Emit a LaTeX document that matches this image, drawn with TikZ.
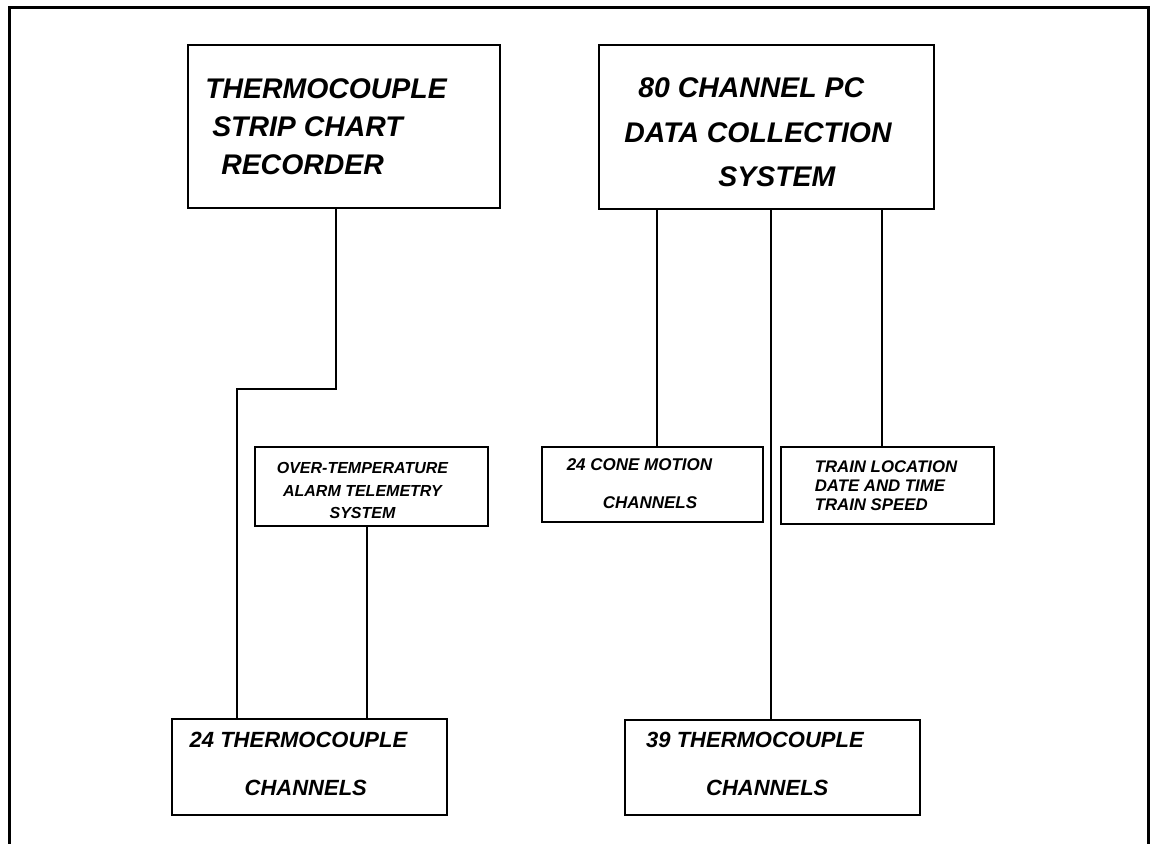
\documentclass[tikz,border=0pt]{standalone}
\usepackage{fontspec}
\setmainfont{Liberation Sans}
\usetikzlibrary{positioning}
\tikzset{box/.style={rectangle,draw=black,line width=1pt,inner sep=0pt},
txt/.style 2 args={inner sep=0pt,font=\fontsize{#1}{#2}\selectfont\bfseries\itshape},
link/.style={draw=black,line width=1pt},
frame/.style={draw=black,line width=1.5pt}}

\begin{document}
\begin{tikzpicture}[x=0.5pt,y=-0.5pt]
    \useasboundingbox (0,0) rectangle (1153,844);
    \draw [frame] (9,844) -- (9,8) -- (1148,8) -- (1148,844);

    \node (rec) [box, minimum width=156pt, minimum height=81.5pt] at (344,126.5) {};
    \node (dcs) [box, minimum width=167.5pt, minimum height=82pt] at (766.5,127) {};

    \node (ota) [box, minimum width=116.5pt, minimum height=39.5pt] at (371.5,486.5) {};
    \node (cone) [box, minimum width=110.5pt, minimum height=37.5pt] at (652.5,484.5) {};
    \node (train) [box, minimum width=106.5pt, minimum height=38.5pt] at (887.5,485.5) {};

    \node (tc_24) [box, minimum width=137.5pt, minimum height=48pt] at (309.5,767) {};
    \node (tc_39) [box, minimum width=147.5pt, minimum height=47.5pt] at (772.5,767.5) {};

    \node (rec_txt) [txt={14.2}{18.9}, align=left] at (326,126.5)
        {THERMOCOUPLE\\\hspace*{3.5pt}STRIP CHART\\\hspace*{8pt}RECORDER};
    \node (dcs_txt) [txt={14.2}{22.2}, align=left] at (758,132.5)
        {\hspace*{7pt}80 CHANNEL PC\\DATA COLLECTION\\\hspace*{47pt}SYSTEM};
    \node (ota_txt) [txt={8}{11.4}, align=center] at (362.5,490.5)
        {OVER-TEMPERATURE\\ALARM TELEMETRY\\SYSTEM};
    \node (cone_txt) [txt={8.5}{19}, align=left] at (639.5,484)
        {24 CONE MOTION\\\hspace*{18pt}CHANNELS};
    \node (train_txt) [txt={8.4}{9.4}, align=left] at (886,486)
        {TRAIN LOCATION\\DATE AND TIME\\TRAIN SPEED};
    \node (tc_24_txt) [txt={11}{24}, align=left] at (298.5,763.5)
        {24 THERMOCOUPLE\\\hspace*{27.5pt}CHANNELS};
    \node (tc_39_txt) [txt={11}{24}, align=left] at (755,764)
        {39 THERMOCOUPLE\\\hspace*{30pt}CHANNELS};

    \coordinate (rec_turn) at (336,389);
    \coordinate (tc_24_turn) at (237,389);
    \coordinate (ota_col) at (366.5,0);
    \coordinate (cone_col) at (657,0);
    \coordinate (tc_39_col) at (771,0);
    \coordinate (train_col) at (882,0);

    \draw [link] (rec_turn |- rec.south) -- (rec_turn) -- (tc_24_turn) -- (tc_24_turn |- tc_24.north);
    \draw [link] (ota_col |- ota.south) -- (ota_col |- tc_24.north);

    \draw [link] (cone_col |- dcs.south) -- (cone_col |- cone.north);
    \draw [link] (tc_39_col |- dcs.south) -- (tc_39_col |- tc_39.north);
    \draw [link] (train_col |- dcs.south) -- (train_col |- train.north);

\end{tikzpicture}
\end{document}
